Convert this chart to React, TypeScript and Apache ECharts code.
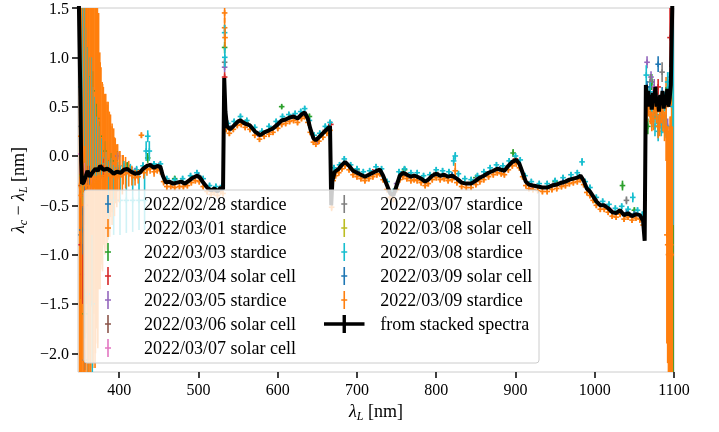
import React, { useEffect, useRef } from 'react';
import * as echarts from 'echarts';

type Row = [number, number, number];

const FONT = '"Liberation Serif", "Times New Roman", serif';

const xTicks = [400, 500, 600, 700, 800, 900, 1000, 1100];
const yTicks = [-2, -1.5, -1, -0.5, 0, 0.5, 1, 1.5];

const seriesNames = [
  '2022/02/28 stardice',
  '2022/03/01 stardice',
  '2022/03/03 stardice',
  '2022/03/04 solar cell',
  '2022/03/05 stardice',
  '2022/03/06 solar cell',
  '2022/03/07 solar cell',
  '2022/03/07 stardice',
  '2022/03/08 solar cell',
  '2022/03/08 stardice',
  '2022/03/09 solar cell',
  '2022/03/09 stardice',
];
const stackName = 'from stacked spectra';

const seriesColors = [
  '#1f77b4', '#ff7f0e', '#2ca02c', '#d62728', '#9467bd', '#8c564b',
  '#e377c2', '#7f7f7f', '#bcbd22', '#17becf', '#1f77b4', '#ff7f0e',
];

// stacked-spectra curve
const stackWl = [
  349, 351, 352, 353, 355, 358, 360, 363, 366, 370, 373, 376, 380, 385, 389, 393, 397, 402, 406, 410,
  415, 420, 426, 430, 435, 439, 444, 448, 452, 455, 459, 463, 468, 473, 478, 483, 488, 493, 498, 502,
  506, 511, 516, 520, 524, 528, 531, 532.5, 534, 536, 540, 545, 550, 553, 558, 565, 571, 578, 583, 589,
  594, 600, 605, 610, 615, 620, 625, 630, 634, 638, 641, 645, 648, 652, 657, 662, 666, 667.5, 669, 672,
  677, 681, 685, 690, 695, 700, 705, 710, 715, 720, 725, 729, 733, 738, 742, 746, 750, 754, 758, 763,
  768, 772, 776, 781, 786, 790, 795, 800, 805, 810, 815, 820, 826, 832, 838, 844, 850, 855, 860, 866,
  872, 877, 882, 886, 891, 896, 901, 905, 909, 913, 917, 922, 928, 934, 940, 946, 952, 958, 963, 968,
  973, 978, 982, 986, 990, 994, 998, 1002, 1007, 1012, 1017, 1022, 1027, 1032, 1037, 1042, 1047, 1052, 1057, 1061,
  1063, 1064.5, 1066, 1067.5, 1069, 1070.5, 1072, 1073.5, 1075, 1076.5, 1078, 1079.5, 1081, 1082.5, 1084, 1085.5,
  1087, 1088.5, 1090, 1091.5, 1093, 1094.5, 1096, 1098,
];
const stackVal = [
  1.6, 0.6, -0.05, -0.28, -0.27, -0.2, -0.15, -0.21, -0.17, -0.13, -0.15, -0.1, -0.14, -0.13, -0.15, -0.18, -0.16, -0.17, -0.14, -0.13,
  -0.16, -0.18, -0.17, -0.13, -0.1, -0.09, -0.12, -0.1, -0.11, -0.2, -0.27, -0.26, -0.28, -0.27, -0.26, -0.28, -0.25, -0.22, -0.2, -0.22,
  -0.27, -0.32, -0.35, -0.33, -0.36, -0.32, -0.34, 0.79, 0.45, 0.3, 0.27, 0.31, 0.35, 0.36, 0.33, 0.31, 0.25, 0.21, 0.24, 0.26,
  0.28, 0.32, 0.36, 0.37, 0.39, 0.4, 0.38, 0.42, 0.44, 0.38, 0.28, 0.18, 0.16, 0.19, 0.23, 0.27, 0.3, -0.5, -0.25, -0.16,
  -0.13, -0.09, -0.06, -0.1, -0.15, -0.17, -0.19, -0.21, -0.19, -0.17, -0.15, -0.14, -0.2, -0.3, -0.38, -0.4, -0.3, -0.2, -0.17, -0.19,
  -0.21, -0.2, -0.21, -0.23, -0.26, -0.24, -0.2, -0.18, -0.2, -0.19, -0.21, -0.2, -0.23, -0.27, -0.28, -0.28, -0.25, -0.22, -0.2, -0.17,
  -0.15, -0.13, -0.14, -0.15, -0.1, -0.06, -0.04, -0.08, -0.17, -0.26, -0.29, -0.3, -0.31, -0.32, -0.32, -0.3, -0.29, -0.27, -0.26, -0.24,
  -0.23, -0.22, -0.2, -0.25, -0.33, -0.36, -0.41, -0.46, -0.5, -0.5, -0.53, -0.57, -0.58, -0.55, -0.6, -0.58, -0.61, -0.59, -0.6, -0.66,
  -0.86, 0.72, 0.55, 0.66, 0.5, 0.62, 0.47, 0.64, 0.55, 0.7, 0.5, 0.58, 0.45, 0.62, 0.52, 0.66,
  0.48, 0.6, 0.52, 0.68, 0.5, 0.58, 0.72, 1.6,
];

// per-night measurements: [wavelength nm, offset nm, error nm]
const n0228Stardice: Row[] = [
  [352, -0.8, 0.2], [354, -0.65, 0.15], [358, -0.3, 0.2], [365, -0.2, 0.15], [390, -0.14, 0.05],
  [450, -0.1, 0.03], [540, 0.28, 0.03], [620, 0.4, 0.02], [700, -0.16, 0.02], [800, -0.17, 0.02],
  [880, -0.13, 0.02], [950, -0.28, 0.02], [1040, -0.58, 0.03], [1070, 0.7, 0.08], [1085, 0.6, 0.1],
];
const n0301Stardice: Row[] = [
  [350, -0.3, 2.8], [351.5, 0.2, 2.6], [353, 0.0, 2.5], [354.5, -0.6, 2.2], [356, -0.5, 2.1],
  [357.5, 0.1, 1.9], [359, 0.3, 1.8], [360.5, -0.4, 1.95], [362, -0.6, 2.1], [363.5, -0.2, 1.8],
  [365, 0.1, 1.6], [366.5, -0.3, 1.85], [368, 0.0, 1.6], [369.5, -0.3, 1.85], [371, -0.1, 1.65],
  [372.5, -0.2, 1.7], [374, 0.05, 1.4], [375.5, -0.15, 1.2], [377, -0.1, 1.0], [378.5, -0.2, 0.95],
  [380, -0.1, 0.8], [381.5, -0.15, 0.78], [383, -0.05, 0.68], [384.5, -0.2, 0.75], [386, -0.05, 0.6],
  [387.5, -0.15, 0.6], [389, -0.1, 0.52], [391, -0.12, 0.45], [393, -0.1, 0.38], [395, -0.15, 0.33],
  [398, -0.12, 0.24], [401, -0.15, 0.2], [405, -0.14, 0.15], [533, 1.3, 0.1], [1090, 0.5, 0.3],
  [1097, -0.5, 1.8],
];
const n0303Stardice: Row[] = [
  [353, 0.9, 0.6], [355, 1.17, 0.35], [357, -1.6, 0.25], [360, 0.8, 0.3], [364, 0.6, 0.25],
  [367, 0.66, 0.2], [372, 0.38, 0.15], [376, 0.2, 0.15], [382, 0.05, 0.1], [390, -0.05, 0.08],
  [397, 0.0, 0.05], [410, -0.1, 0.04], [436, -0.02, 0.05], [470, -0.23, 0.03], [533, 1.1, 0.06],
  [560, 0.34, 0.03], [605, 0.5, 0.02], [640, 0.4, 0.03], [700, -0.14, 0.03], [760, -0.14, 0.03],
  [850, -0.22, 0.03], [897, 0.03, 0.04], [950, -0.26, 0.03], [1035, -0.3, 0.05], [1050, -0.55, 0.03],
  [1067, 0.3, 0.08], [1069, 0.55, 0.08], [1072, 0.75, 0.08], [1076, 0.45, 0.08], [1080, 0.3, 0.1],
  [1084, 0.5, 0.1], [1090, 0.6, 0.1], [1099, 0.0, 2.5],
];
const n0304Solar: Row[] = [
  [352, -0.9, 0.55], [354, -1.2, 0.3], [357, -0.5, 0.2], [380, -0.12, 0.1], [450, -0.1, 0.03],
  [533, 0.8, 0.05], [600, 0.32, 0.02], [667, 0.32, 0.03], [720, -0.16, 0.02], [800, -0.17, 0.02],
  [900, -0.03, 0.02], [1000, -0.44, 0.02], [1068, 0.6, 0.06], [1080, 0.7, 0.08], [1095, 1.2, 0.3],
];
const n0305Stardice: Row[] = [
  [354, -0.2, 0.3], [357, 0.65, 0.15], [362, 0.2, 0.2], [370, 0.0, 0.12], [398, 0.0, 0.04],
  [420, -0.15, 0.03], [533, 0.9, 0.05], [575, 0.22, 0.02], [650, 0.15, 0.02], [750, -0.28, 0.02],
  [850, -0.24, 0.02], [950, -0.28, 0.02], [1066, 0.95, 0.06], [1071, 0.8, 0.06], [1075, 0.7, 0.08],
  [1083, 0.4, 0.08], [1092, 0.3, 0.08],
];
const n0306Solar: Row[] = [
  [353, -0.3, 0.3], [360, -0.2, 0.15], [450, -0.12, 0.03], [560, 0.33, 0.02], [660, 0.26, 0.02],
  [760, -0.17, 0.02], [860, -0.2, 0.02], [960, -0.27, 0.02], [1070, 0.6, 0.06], [1088, 0.55, 0.08],
];
const n0307Solar: Row[] = [
  [351, 0.02, 0.2], [356, -0.27, 0.2], [364, -0.2, 0.15], [440, -0.1, 0.03], [530, -0.32, 0.02],
  [620, 0.4, 0.02], [720, -0.17, 0.02], [820, -0.2, 0.02], [920, -0.3, 0.02], [1020, -0.55, 0.02],
  [1074, 0.65, 0.06], [1096, 0.8, 0.2],
];
const n0307Stardice: Row[] = [
  [352, 0.3, 0.6], [357, -2.07, 0.1], [370, -0.1, 0.15], [533, 0.95, 0.05], [600, 0.33, 0.02],
  [700, -0.16, 0.02], [800, -0.17, 0.02], [900, -0.04, 0.02], [1040, -0.45, 0.04], [1070, 0.75, 0.08],
  [1085, 0.85, 0.1],
];
const n0308Solar: Row[] = [
  [353, -0.2, 0.3], [400, -0.16, 0.04], [500, -0.2, 0.02], [600, 0.32, 0.02], [700, -0.17, 0.02],
  [800, -0.18, 0.02], [900, -0.04, 0.02], [1000, -0.45, 0.02], [1075, 0.55, 0.06],
];
const n0308Stardice: Row[] = [
  [352, 0.7, 1.0], [353.5, 0.6, 0.9], [355, 0.9, 0.8], [356.5, 0.8, 0.7], [358, 0.55, 0.75], [359.5, 0.5, 0.6],
  [361, -1.4, 0.8], [362, 0.3, 0.5], [363.5, 0.45, 0.55], [365, 0.4, 0.6], [366, -1.5, 0.7], [367, 0.25, 0.45],
  [368.5, 0.2, 0.4], [370, 0.15, 0.35], [371.5, 0.1, 0.3], [373, 0.08, 0.28], [374.5, 0.05, 0.25], [378, -0.02, 0.2],
  [383, -0.08, 0.12], [386, -0.45, 0.4], [390, -0.1, 0.08], [393, -0.45, 0.35], [398, -0.12, 0.06], [401, -0.45, 0.35],
  [406, -0.1, 0.05], [409, -0.45, 0.33], [414, -0.12, 0.04], [417, -0.45, 0.32], [422, -0.14, 0.04], [425, -0.45, 0.3],
  [430, -0.1, 0.04], [432, -0.45, 0.3], [434, 0.05, 0.1], [436, 0.2, 0.06], [438, 0.05, 0.1], [444, -0.08, 0.03],
  [452, -0.08, 0.03], [460, -0.23, 0.03], [470, -0.24, 0.03], [480, -0.23, 0.03], [490, -0.2, 0.03], [498, -0.17, 0.03],
  [506, -0.23, 0.03], [514, -0.3, 0.03], [522, -0.31, 0.03], [530, -0.3, 0.03], [533, 1.25, 0.08], [533.2, 1.0, 0.1],
  [537, 0.33, 0.03], [545, 0.35, 0.03], [553, 0.4, 0.03], [561, 0.36, 0.03], [571, 0.29, 0.03], [580, 0.25, 0.03],
  [589, 0.3, 0.03], [598, 0.35, 0.03], [606, 0.4, 0.03], [614, 0.42, 0.03], [622, 0.43, 0.03], [629, 0.45, 0.03],
  [634, 0.48, 0.03], [640, 0.36, 0.03], [646, 0.21, 0.03], [653, 0.23, 0.03], [660, 0.3, 0.03], [666, 0.34, 0.03],
  [671, -0.12, 0.03], [678, -0.09, 0.03], [684, -0.03, 0.03], [692, -0.09, 0.03], [700, -0.13, 0.03], [708, -0.16, 0.03],
  [716, -0.15, 0.03], [724, -0.11, 0.03], [731, -0.13, 0.03], [738, -0.26, 0.03], [746, -0.36, 0.03], [753, -0.16, 0.03],
  [760, -0.13, 0.03], [768, -0.17, 0.03], [776, -0.17, 0.03], [784, -0.2, 0.03], [792, -0.19, 0.03], [800, -0.14, 0.03],
  [808, -0.15, 0.03], [816, -0.16, 0.03], [822, -0.05, 0.05], [824, 0.0, 0.04], [828, -0.18, 0.03], [836, -0.23, 0.03],
  [844, -0.24, 0.03], [852, -0.2, 0.03], [860, -0.16, 0.03], [868, -0.12, 0.03], [876, -0.09, 0.03], [884, -0.1, 0.03],
  [892, -0.05, 0.03], [900, 0.0, 0.03], [906, -0.04, 0.03], [912, -0.2, 0.03], [920, -0.26, 0.03], [930, -0.28, 0.03],
  [940, -0.28, 0.03], [950, -0.25, 0.03], [960, -0.22, 0.03], [970, -0.19, 0.03], [978, -0.17, 0.03], [984, -0.06, 0.04],
  [988, -0.26, 0.03], [994, -0.32, 0.03], [1002, -0.42, 0.03], [1010, -0.46, 0.03], [1018, -0.49, 0.03], [1026, -0.53, 0.03],
  [1034, -0.51, 0.03], [1042, -0.54, 0.03], [1048, -0.42, 0.05], [1054, -0.55, 0.03], [1060, -0.6, 0.04], [1065, 0.82, 0.1],
  [1067, 0.6, 0.1], [1070, 0.65, 0.1], [1072, 0.4, 0.1], [1074, 0.5, 0.1], [1076, 0.3, 0.1], [1078, 0.42, 0.1],
  [1080, 0.25, 0.1], [1082, 0.4, 0.12], [1084, 0.3, 0.1], [1086, 0.35, 0.12], [1088, 0.55, 0.1], [1090, 0.3, 0.12],
  [1092, 0.75, 0.1], [1094, 0.7, 0.15], [1099, 0.5, 1.2],
];
const n0309Solar: Row[] = [
  [353, -0.75, 0.25], [356, -0.4, 0.2], [362, -0.2, 0.1], [400, -0.16, 0.04], [500, -0.2, 0.02],
  [600, 0.32, 0.02], [700, -0.16, 0.02], [820, -0.19, 0.02], [960, -0.26, 0.02], [1050, -0.59, 0.03],
  [1066, 0.7, 0.06], [1080, 0.93, 0.08], [1090, 0.55, 0.08],
];
const n0309Stardice: Row[] = [
  [352, -0.4, 2.6], [355, -0.5, 2.3], [358, -0.3, 2.0], [361, -0.35, 1.9], [364, -0.3, 1.9], [367, -0.3, 1.8],
  [370, -0.25, 1.75], [373, -0.25, 1.7], [376, -0.2, 1.15], [379, -0.22, 0.95], [382, -0.2, 0.8], [385, -0.18, 0.7],
  [388, -0.2, 0.62], [391, -0.2, 0.5], [394, -0.21, 0.4], [397, -0.2, 0.32], [400, -0.21, 0.26], [404, -0.19, 0.2],
  [408, -0.17, 0.16], [412, -0.18, 0.13], [416, -0.2, 0.1], [420, -0.22, 0.08], [424, -0.21, 0.07], [428, 0.21, 0.03],
  [431, -0.17, 0.06], [435, -0.14, 0.06], [439, -0.13, 0.05], [444, -0.16, 0.05], [448, -0.14, 0.04], [452, -0.15, 0.04],
  [456, -0.26, 0.04], [460, -0.31, 0.04], [465, -0.31, 0.03], [470, -0.32, 0.03], [476, -0.31, 0.03], [481, -0.31, 0.03],
  [486, -0.3, 0.03], [491, -0.27, 0.03], [496, -0.25, 0.03], [501, -0.26, 0.03], [506, -0.31, 0.03], [511, -0.36, 0.03],
  [516, -0.39, 0.03], [520, -0.37, 0.03], [524, -0.4, 0.03], [528, -0.36, 0.03], [531, -0.38, 0.03], [533, 1.45, 0.1],
  [533.5, 1.2, 0.1], [535, 0.27, 0.03], [539, 0.23, 0.03], [544, 0.27, 0.03], [549, 0.31, 0.03], [554, 0.32, 0.03],
  [559, 0.29, 0.03], [565, 0.27, 0.03], [571, 0.21, 0.03], [577, 0.17, 0.03], [583, 0.2, 0.03], [589, 0.22, 0.03],
  [594, 0.24, 0.03], [600, 0.28, 0.03], [605, 0.32, 0.03], [610, 0.33, 0.03], [615, 0.35, 0.03], [620, 0.36, 0.03],
  [625, 0.34, 0.03], [630, 0.38, 0.03], [634, 0.4, 0.03], [638, 0.34, 0.03], [641, 0.24, 0.03], [645, 0.14, 0.03],
  [648, 0.12, 0.03], [652, 0.15, 0.03], [657, 0.19, 0.03], [662, 0.23, 0.03], [666, 0.26, 0.03], [668, -0.52, 0.04],
  [670, -0.25, 0.03], [673, -0.2, 0.03], [677, -0.17, 0.03], [681, -0.13, 0.03], [685, -0.1, 0.03], [690, -0.14, 0.03],
  [695, -0.19, 0.03], [700, -0.21, 0.03], [705, -0.23, 0.03], [710, -0.25, 0.03], [715, -0.23, 0.03], [720, -0.21, 0.03],
  [725, -0.19, 0.03], [729, -0.18, 0.03], [733, -0.24, 0.03], [738, -0.34, 0.03], [742, -0.42, 0.03], [746, -0.44, 0.03],
  [750, -0.34, 0.03], [754, -0.24, 0.03], [758, -0.21, 0.03], [763, -0.23, 0.03], [768, -0.25, 0.03], [772, -0.24, 0.03],
  [776, -0.25, 0.03], [781, -0.27, 0.03], [786, -0.3, 0.03], [790, -0.28, 0.03], [795, -0.24, 0.03], [800, -0.22, 0.03],
  [805, -0.24, 0.03], [810, -0.23, 0.03], [815, -0.25, 0.03], [820, -0.24, 0.03], [824, -0.15, 0.08], [826, -0.27, 0.03],
  [832, -0.31, 0.03], [838, -0.32, 0.03], [844, -0.32, 0.03], [850, -0.29, 0.03], [855, -0.26, 0.03], [860, -0.24, 0.03],
  [866, -0.21, 0.03], [872, -0.19, 0.03], [877, -0.17, 0.03], [882, -0.18, 0.03], [886, -0.19, 0.03], [891, -0.14, 0.03],
  [896, -0.1, 0.03], [901, -0.08, 0.03], [905, -0.12, 0.03], [909, -0.21, 0.03], [913, -0.3, 0.03], [917, -0.33, 0.03],
  [922, -0.34, 0.03], [928, -0.35, 0.03], [934, -0.36, 0.03], [940, -0.36, 0.03], [946, -0.34, 0.03], [952, -0.33, 0.03],
  [958, -0.31, 0.03], [963, -0.3, 0.03], [968, -0.28, 0.03], [973, -0.27, 0.03], [978, -0.26, 0.03], [982, -0.24, 0.03],
  [986, -0.29, 0.03], [990, -0.37, 0.03], [994, -0.4, 0.03], [998, -0.45, 0.03], [1002, -0.5, 0.03], [1007, -0.54, 0.03],
  [1012, -0.54, 0.03], [1017, -0.57, 0.03], [1022, -0.61, 0.03], [1027, -0.62, 0.03], [1032, -0.59, 0.03], [1037, -0.64, 0.03],
  [1042, -0.62, 0.03], [1047, -0.65, 0.03], [1052, -0.63, 0.03], [1057, -0.64, 0.04], [1061, -0.7, 0.05], [1066, 0.45, 0.1],
  [1068, 0.5, 0.1], [1070, 0.42, 0.1], [1072, 0.35, 0.1], [1074, 0.38, 0.12], [1076, 0.5, 0.1], [1078, 0.45, 0.12],
  [1080, 0.3, 0.12], [1082, 0.35, 0.15], [1084, 0.45, 0.12], [1086, 0.4, 0.15], [1088, 0.3, 0.15], [1090, 0.25, 0.3],
  [1091, -0.8, 1.1], [1092, -0.9, 1.2], [1093, -1.0, 1.25], [1094, -1.0, 1.3], [1095, -0.9, 1.3], [1096, -0.9, 1.3],
  [1097, -1.0, 1.3], [1098, -1.0, 1.3],
];

const nights: Row[][] = [
  n0228Stardice, n0301Stardice, n0303Stardice, n0304Solar, n0305Stardice, n0306Solar,
  n0307Solar, n0307Stardice, n0308Solar, n0308Stardice, n0309Solar, n0309Stardice,
];

const BAR_ICON = 'path://M2.2,0h1.6v8.2h2.2v1.6h-2.2v8.2h-1.6v-8.2h-2.2v-1.6h2.2z';
const LINE_ICON = 'path://M0,6.5h16.5v-6.5h3v6.5h16.5v3h-16.5v6.5h-3v-6.5h-16.5z';

const fmtY = (v: number) => (v < 0 ? '\u2212' : '') + Math.abs(v).toFixed(1);

function makeErrRender(color: string) {
  return (params: any, api: any) => {
    const cs = params.coordSys;
    const x = api.value(0);
    const y = api.value(1);
    const e = api.value(2);
    const c = api.coord([x, y]);
    const hi = api.coord([x, y + e])[1];
    const lo = api.coord([x, y - e])[1];
    const y0 = cs.y;
    const y1 = cs.y + cs.height;
    const t = Math.max(y0, Math.min(y1, hi));
    const b = Math.max(y0, Math.min(y1, lo));
    const st = { stroke: color, lineWidth: 1.6 };
    const children: any[] = [];
    if (b > t) {
      children.push({ type: 'line', shape: { x1: c[0], y1: t, x2: c[0], y2: b }, style: st });
    }
    if (c[1] >= y0 && c[1] <= y1) {
      children.push({ type: 'line', shape: { x1: c[0] - 2.8, y1: c[1], x2: c[0] + 2.8, y2: c[1] }, style: st });
      children.push({
        type: 'line',
        shape: { x1: c[0], y1: Math.max(y0, c[1] - 2.8), x2: c[0], y2: Math.min(y1, c[1] + 2.8) },
        style: st,
      });
    }
    return { type: 'group', children };
  };
}

export default function App() {
  const ref = useRef<HTMLDivElement>(null);
  useEffect(() => {
    if (!ref.current) return;
    const chart = echarts.init(ref.current, null, { renderer: 'svg' });

    const errSeries = nights.map((rows, i) => ({
      type: 'custom',
      name: seriesNames[i],
      data: rows,
      encode: { x: 0, y: 1 },
      clip: true,
      itemStyle: { color: seriesColors[i] },
      renderItem: makeErrRender(seriesColors[i]),
      z: 2,
    }));

    const legendText = {
      fontFamily: FONT,
      fontSize: 18,
      color: '#000',
      lineHeight: 18,
    };

    const nameRich = {
      i: { fontFamily: FONT, fontStyle: 'italic', fontSize: 18, color: '#000' },
      s: { fontFamily: FONT, fontStyle: 'italic', fontSize: 12, color: '#000', padding: [10, 0, 0, 0] },
      t: { fontFamily: FONT, fontSize: 18, color: '#000' },
    };

    chart.setOption({
      animation: false,
      color: seriesColors,
      grid: {
        left: 78,
        right: 45,
        top: 8,
        bottom: 60,
        show: true,
        borderColor: '#cccccc',
        borderWidth: 1,
        backgroundColor: 'transparent',
      },
      xAxis: {
        type: 'value',
        min: 348,
        max: 1100,
        name: '{i|λ}{s|L}{t| [nm]}',
        nameLocation: 'middle',
        nameGap: 26,
        nameTextStyle: { fontFamily: FONT, fontSize: 18, color: '#000', rich: nameRich },
        axisLine: { show: false, onZero: false },
        splitLine: { show: false },
        axisTick: {
          show: true,
          length: 6,
          customValues: xTicks,
          lineStyle: { color: '#000', width: 1.5 },
        },
        axisLabel: {
          customValues: xTicks,
          margin: 9,
          fontFamily: FONT,
          fontSize: 16,
          color: '#000',
          formatter: (v: number) => String(v),
        },
      },
      yAxis: {
        type: 'value',
        min: -2.19,
        max: 1.5,
        name: '{i|λ}{s|c}{t| − }{i|λ}{s|L}{t| [nm]}',
        nameLocation: 'middle',
        nameGap: 46,
        nameTextStyle: { fontFamily: FONT, fontSize: 18, color: '#000', rich: nameRich },
        axisLine: { show: false, onZero: false },
        splitLine: { show: false },
        axisTick: {
          show: true,
          length: 6,
          customValues: yTicks,
          lineStyle: { color: '#000', width: 1.5 },
        },
        axisLabel: {
          customValues: yTicks,
          margin: 9,
          fontFamily: FONT,
          fontSize: 16,
          color: '#000',
          formatter: fmtY,
        },
      },
      legend: [
        {
          data: seriesNames.slice(0, 7).map((n) => ({ name: n, icon: BAR_ICON })),
          orient: 'vertical',
          left: 105,
          top: 195,
          padding: 0,
          itemWidth: 62,
          itemHeight: 18,
          itemGap: 6,
          selectedMode: false,
          textStyle: legendText,
          z: 5,
        },
        {
          data: [
            ...seriesNames.slice(7).map((n) => ({ name: n, icon: BAR_ICON })),
            { name: stackName, icon: LINE_ICON },
          ],
          orient: 'vertical',
          left: 324,
          top: 195,
          padding: 0,
          itemWidth: 62,
          itemHeight: 18,
          itemGap: 6,
          selectedMode: false,
          textStyle: legendText,
          z: 5,
        },
      ],
      graphic: [
        {
          type: 'rect',
          z: 3,
          shape: { x: 84, y: 190, width: 455, height: 173, r: 3 },
          style: { fill: 'rgba(255,255,255,0.8)', stroke: '#cccccc', lineWidth: 1 },
          silent: true,
        },
      ],
      series: [
        ...errSeries,
        {
          type: 'line',
          name: stackName,
          data: stackWl.map((w, i) => [w, stackVal[i]]),
          symbol: 'none',
          showSymbol: false,
          clip: true,
          itemStyle: { color: '#000' },
          lineStyle: { color: '#000', width: 4 },
          z: 2.5,
        },
      ],
    });

    return () => chart.dispose();
  }, []);

  return (
    <div
      ref={ref}
      style={{ position: 'fixed', left: 0, top: 0, width: 719, height: 432 }}
    />
  );
}
